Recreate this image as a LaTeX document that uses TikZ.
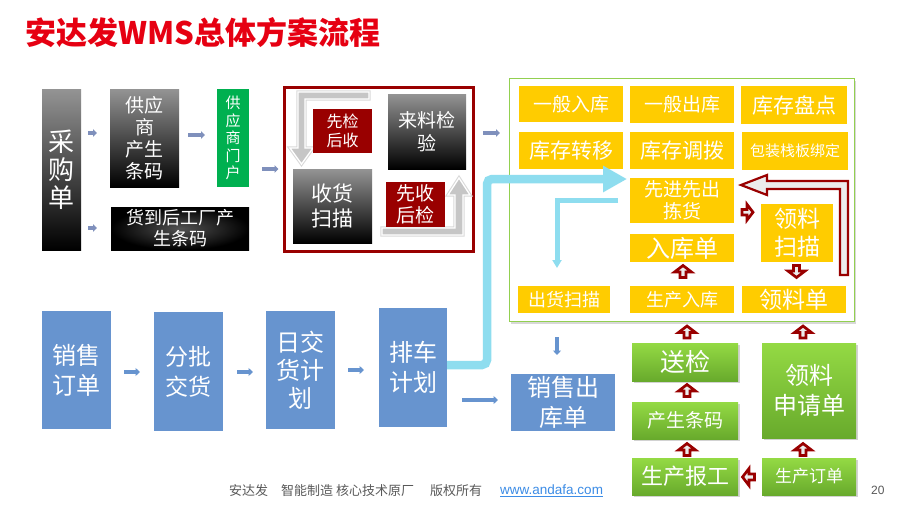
\documentclass[tikz,border=0pt]{standalone}
\usepackage{fontspec}
\setmainfont{Noto Sans CJK SC}
\newfontfamily\urlfont{Liberation Sans}
\usetikzlibrary{calc,arrows.meta,shadows}
\definecolor{dred}{HTML}{990000}
\definecolor{ylw}{HTML}{FFCC00}
\definecolor{bluebox}{HTML}{6794CF}
\definecolor{lblue}{HTML}{8EDDEF}
\definecolor{sgrey}{HTML}{7F90BC}
\definecolor{gtop}{HTML}{94DA44}
\definecolor{gbot}{HTML}{68AA2C}
\definecolor{gframe}{HTML}{92D050}
\definecolor{portal}{HTML}{00B050}
\definecolor{ttl}{HTML}{E60012}
\definecolor{ftgrey}{HTML}{595959}
\definecolor{urlblue}{HTML}{3C8CE6}
\tikzset{
  bx/.style 2 args={minimum width=#1, minimum height=#2, inner sep=0pt, outer sep=0pt, align=center, text=white},
  fs/.style 2 args={font=\fontsize{#1}{#2}\selectfont},
  darkbox/.style={top color=black!42, bottom color=black},
  dkrad/.style={shading=radial, inner color=black!68, outer color=black},
  ylbox/.style={fill=ylw},
  bluebx/.style={fill=bluebox},
  grnbx/.style={top color=gtop, bottom color=gbot, drop shadow={shadow xshift=1.5pt, shadow yshift=-2pt, opacity=0.35}},
  sarr/.style={draw=sgrey, line width=3.5pt, -{Triangle[length=4pt,width=7.5pt]}},
  barr/.style={draw=bluebox, line width=3.5pt, -{Triangle[length=4.5pt,width=8pt]}},
  lbl/.style={draw=lblue, line width=8.5pt},
  lbl2/.style={draw=lblue, line width=5pt},
  gar/.style={fill=gray!45, draw=white, line width=1.3pt, line join=miter, preaction={draw=gray!30, line width=3.4pt}},
  bigL/.style={draw=dred, line width=2.2pt, fill=gray!15, line join=miter},
  blkarr/.pic={\draw[dred, line width=2.7pt, fill=white!85!gray, line join=miter]
     (0,-6) -- (8.5,0.5) -- (3,0.5) -- (3,6) -- (-3,6) -- (-3,0.5) -- (-8.5,0.5) -- cycle;}
}
\begin{document}
\begin{tikzpicture}[x=1pt,y=-1pt]
\fill[white] (0,0) rectangle (907,509);
\useasboundingbox (0,0) rectangle (907,509);

% title
\node[anchor=base west, inner sep=0pt, text=ttl, font=\fontsize{31}{31}\selectfont\bfseries] (title) at (25,44) {安达发WMS总体方案流程};

% top-left
\node[darkbox, bx={39}{161}, fs={26}{28}] (cai) at (61.5,169.5) {采\\购\\单};
\node[darkbox, bx={69}{98}, fs={19}{22}] (gys) at (144.5,138) {供应\\商\\产生\\条码};
\node[bx={32}{98}, fill=portal, fs={15}{17.5}] (mh) at (233,138) {供\\应\\商\\门\\户};
\node[dkrad, bx={138}{43}, fs={18}{21}] (hd) at (180,228.5) {货到后工厂产\\生条码};

% red frame
\node[bx={189}{164}, draw=dred, line width=3pt, fill=white] (rf) at (379,169.5) {};
\draw[gar] (369,92) -- (298,92) -- (298,148) -- (290,148) -- (301.5,164) -- (313,148) -- (305,148) -- (305,99) -- (369,99) -- cycle;
\draw[gar] (382,228) -- (455,228) -- (455,195) -- (448,195) -- (459,178) -- (470,195) -- (463,195) -- (463,235) -- (382,235) -- cycle;
\node[bx={59}{44}, fill=dred, fs={16}{19}] (xjhs) at (342.5,131) {先检\\后收};
\node[darkbox, bx={78}{75}, fs={19}{23}] (lljy) at (427,131.5) {来料检\\验};
\node[darkbox, bx={79}{74}, fs={21}{25}] (shsm) at (332.5,206) {收货\\扫描};
\node[bx={59}{45}, fill=dred, fs={19}{22}] (xshj) at (415.5,204.5) {先收\\后检};

% green frame
\node[bx={345}{243}, draw=gframe, line width=1.5pt, fill=white, drop shadow={shadow xshift=1pt, shadow yshift=-2pt, opacity=0.3}] (gf) at (682,200) {};
\node[ylbox, bx={104}{36}, fs={19}{22}] (ybrk) at (571,104) {一般入库};
\node[ylbox, bx={104}{37}, fs={19}{22}] (ybck) at (682,104.5) {一般出库};
\node[ylbox, bx={106}{38}, fs={21}{24}] (kcpd) at (794,105) {库存盘点};
\node[ylbox, bx={104}{37}, fs={21}{24}] (kczy) at (571,150.5) {库存转移};
\node[ylbox, bx={104}{37}, fs={21}{24}] (kcdb) at (682,150.5) {库存调拨};
\node[ylbox, bx={106}{38}, fs={15}{18}] (bzzb) at (795,151) {包装栈板绑定};
\node[ylbox, bx={104}{45}, fs={19}{22}] (xjxc) at (682,200.5) {先进先出\\拣货};
\node[ylbox, bx={72}{58}, fs={23}{28}] (llsm) at (797,233) {领料\\扫描};
\node[ylbox, bx={104}{28}, fs={24}{26}] (rkd) at (682,248) {入库单};
\node[ylbox, bx={92}{27}, fs={18}{20}] (chsm) at (564,299.5) {出货扫描};
\node[ylbox, bx={104}{27}, fs={18}{20}] (scrk) at (682,299.5) {生产入库};
\node[ylbox, bx={104}{27}, fs={23}{25}] (lld) at (794,299.5) {领料单};

% lower blue boxes
\node[bluebx, bx={69}{118}, fs={24}{30}] (xsdd) at (76.5,370) {销售\\订单};
\node[bluebx, bx={69}{119}, fs={23}{30}] (fpjh) at (188.5,371.5) {分批\\交货};
\node[bluebx, bx={69}{118}, fs={24}{28}] (rjh) at (300.5,370) {日交\\货计\\划};
\node[bluebx, bx={68}{119}, fs={24}{30}] (pcjh) at (413,367.5) {排车\\计划};
\node[bluebx, bx={104}{57}, fs={24}{30}] (xsck) at (563,402.5) {销售出\\库单};

% green boxes
\node[grnbx, bx={106}{38}, fs={25}{27}] (sj) at (685,362) {送检};
\node[grnbx, bx={106}{37}, fs={19}{21}] (cstm) at (685,420.5) {产生条码};
\node[grnbx, bx={106}{37}, fs={22}{24}] (scbg) at (685,476.5) {生产报工};
\node[grnbx, bx={94}{95}, fs={24}{30}] (llsq) at (809,390.5) {领料\\申请单};
\node[grnbx, bx={94}{37}, fs={17}{19}] (scdd) at (809,476.5) {生产订单};

% small arrows
\draw[sarr] ($(cai.east)+(7,-36.5)$) -- ($(gys.west)+(-13,-5)$);
\draw[sarr] ($(cai.east)+(7,58.5)$) -- ($(hd.west)+(-14,-0.5)$);
\draw[sarr] ($(gys.east)+(9,-3)$) -- ($(mh.west)+(-12,-3)$);
\draw[sarr] ($(mh.east)+(13,31)$) -- ($(rf.west)+(-6,-0.5)$);
\draw[sarr] ($(rf.east)+(9.5,-36.5)$) -- ($(gf.west)+(-9.5,-67)$);
\draw[barr] ($(xsdd.east)+(13,2)$) -- ($(fpjh.west)+(-14,0.5)$);
\draw[barr] ($(fpjh.east)+(14,0.5)$) -- ($(rjh.west)+(-13,2)$);
\draw[barr] ($(rjh.east)+(13,0)$) -- ($(pcjh.west)+(-15,2.5)$);
\draw[barr] ($(pcjh.east)+(15,32.5)$) -- ($(xsck.west)+(-13,-2.5)$);
\draw[barr] ($(gf.south)+(-125,15.5)$) -- ($(xsck.north)+(-6,-19)$);

% light blue lines
\draw[lbl, rounded corners=5pt, -{Triangle[length=24pt,width=25pt]}] ($(pcjh.east)+(0,-2.5)$) -| ($(xjxc.west)+(-143,-21.5)$) -- ($(xjxc.west)+(-3,-21.5)$);
\draw[lbl2, -{Triangle[length=8pt,width=9pt]}] ($(xjxc.west)+(-12,0)$) -| ($(chsm.north)+(-7,-18)$);

% dark red block arrows
\draw[bigL] ($(xjxc.east)+(7,-15.5)$) -- ++(26,-10) -- ++(0,6) -- ++(81,0) -- ++(0,94) -- ++(-8,0) -- ++(0,-86) -- ++(-73,0) -- ++(0,6) -- cycle;
\pic at ($(scrk.north)!0.5!(rkd.south)+(1,-2.5)$) {blkarr};
\pic[rotate=-90, scale=0.92] at ($(xjxc.east)!0.5!(llsm.west)+(0,-4.5)$) {blkarr};
\pic[rotate=180] at ($(llsm.south)!0.5!(lld.north)+(1,-2.5)$) {blkarr};
\pic at ($(sj.north)+(2,-11)$) {blkarr};
\pic at ($(cstm.north)!0.5!(sj.south)+(2,-1)$) {blkarr};
\pic at ($(scbg.north)!0.5!(cstm.south)+(2,1)$) {blkarr};
\pic at ($(llsq.north)+(-6,-11)$) {blkarr};
\pic at ($(scdd.north)!0.5!(llsq.south)+(-6,1.5)$) {blkarr};
\pic[rotate=90] at ($(scdd.west)!0.5!(scbg.east)+(-1.5,0.5)$) {blkarr};

% footer
\node[anchor=west, inner sep=0pt, text=ftgrey, font=\fontsize{13}{13}\selectfont] (ft) at (229,491) {安达发\hspace{13pt}智能制造\hspace{3pt}核心技术原厂\hspace{16pt}版权所有};
\node[anchor=west, inner sep=0pt, text=urlblue, font=\urlfont\fontsize{13.5}{14}\selectfont] (url) at (500,491) {\underline{www.andafa.com}};
\node[anchor=west, inner sep=0pt, text=ftgrey, font=\urlfont\fontsize{12}{12}\selectfont] (pg) at (871,490) {20};
\end{tikzpicture}
\end{document}
